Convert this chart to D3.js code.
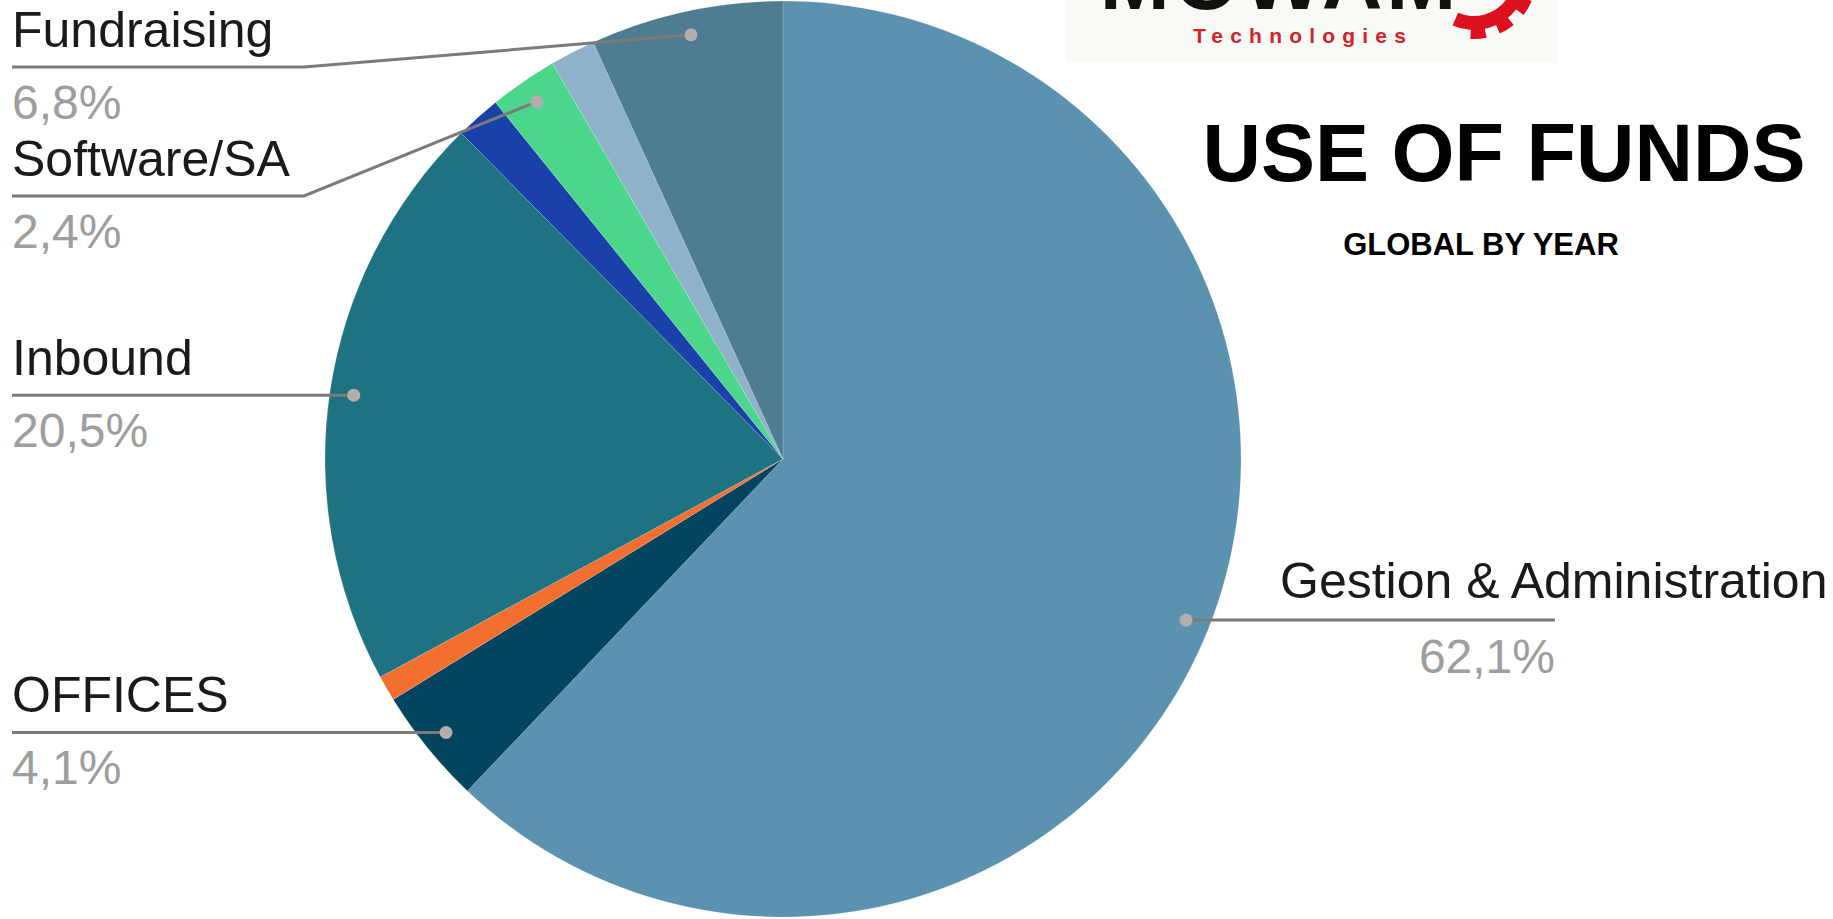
<!DOCTYPE html>
<html>
<head>
<meta charset="utf-8">
<script src="https://cdn.jsdelivr.net/npm/d3@7/dist/d3.min.js"></script>
<style>
  html, body { margin: 0; padding: 0; background: #ffffff; overflow: hidden; }
  svg { display: block; }
</style>
</head>
<body>
<script>
// ---- data ----
const categories = ["Gestion & Administration", "OFFICES", "Travel", "Inbound", "Hardware", "Software/SA", "Legal", "Fundraising"];
const values = [62.1, 4.1, 0.9, 20.5, 1.6, 2.4, 1.6, 6.8];
const showLabel = [true, true, false, true, false, true, false, true];
const colors = ["#5b92b0", "#03445f", "#f36f2f", "#1f7282", "#1a40aa", "#4bd68b", "#8db2c9", "#4e7c93"];
const title = "USE OF FUNDS";
const subtitle = "GLOBAL BY YEAR";
const logoName = "MOWAM";
const logoSub = "Technologies";

// ---- layout ----
const W = 1833, H = 919;
const cx = 783, cy = 459, R = 458, dotR = 434;
const font = "'Liberation Sans', Arial, sans-serif";
const fmt = v => d3.format(".1f")(v).replace(".", ",") + "%";

const svg = d3.select("body").append("svg").attr("width", W).attr("height", H);

// logo block
const logo = svg.append("g");
logo.append("rect").attr("x", 1065).attr("y", -10).attr("width", 493).attr("height", 73).attr("fill", "#f8faf5");
logo.append("text").attr("x", 1280).attr("y", 9).attr("text-anchor", "middle")
  .attr("font-family", font).attr("font-weight", "bold").attr("font-size", 84)
  .attr("letter-spacing", 4).attr("fill", "#111").text(logoName);
logo.append("text").attr("x", 1303).attr("y", 43).attr("text-anchor", "middle")
  .attr("font-family", font).attr("font-weight", "bold").attr("font-size", 21)
  .attr("letter-spacing", 7.2).attr("fill", "#d3222b").text(logoSub);
// partial gear
const gear = logo.append("g").attr("transform", "translate(1474,-24)");
gear.append("path").attr("fill", "#dd1020")
  .attr("d", d3.arc().innerRadius(40).outerRadius(54).startAngle(0.9).endAngle(3.55)());
d3.range(1.15, 3.5, 0.48).forEach(a => {
  gear.append("path").attr("fill", "#dd1020")
    .attr("d", d3.arc().innerRadius(50).outerRadius(63).startAngle(a - 0.13).endAngle(a + 0.13)());
});

// pie
const pie = d3.pie().sort(null).value(d => d)(values);
const arc = d3.arc().innerRadius(0).outerRadius(R);
const dotArc = d3.arc().innerRadius(dotR).outerRadius(dotR);
const g = svg.append("g").attr("transform", `translate(${cx},${cy})`);
g.selectAll("path.slice").data(pie).enter().append("path")
  .attr("class", "slice")
  .attr("d", arc)
  .attr("fill", (d, i) => colors[i])
  .attr("stroke", "rgba(255,255,255,0.25)")
  .attr("stroke-width", 0.6);

// labels
const labels = pie.map((d, i) => {
  const c = dotArc.centroid(d);
  return { i, x: cx + c[0], y: cy + c[1], side: c[0] < 0 ? "left" : "right" };
}).filter(d => showLabel[d.i]);

const left = labels.filter(d => d.side === "left").sort((a, b) => a.y - b.y);
const right = labels.filter(d => d.side === "right").sort((a, b) => a.y - b.y);
const gap = 129, minTop = 67;
let prev = minTop - gap;
left.forEach(d => { d.ly = Math.max(d.y, prev + gap); prev = d.ly; });
prev = minTop - gap;
right.forEach(d => { d.ly = Math.max(d.y, prev + gap); prev = d.ly; });

const lx0 = 12, elbowX = 304, rightEnd = 1555, rightNameX = 1280;
const nameSize = 50, pctSize = 48;
const lineG = svg.append("g");
const line = d3.line();

left.forEach(d => {
  const pts = Math.abs(d.ly - d.y) < 1
    ? [[lx0, d.ly], [d.x, d.y]]
    : [[lx0, d.ly], [elbowX, d.ly], [d.x, d.y]];
  lineG.append("path").attr("d", line(pts)).attr("fill", "none")
    .attr("stroke", "#7d7a7a").attr("stroke-width", 3);
  lineG.append("circle").attr("cx", d.x).attr("cy", d.y).attr("r", 6.5).attr("fill", "#b3adad");
  lineG.append("text").attr("x", lx0).attr("y", d.ly - 20)
    .attr("font-family", font).attr("font-size", nameSize).attr("fill", "#1a1a1a")
    .text(categories[d.i]);
  lineG.append("text").attr("x", lx0).attr("y", d.ly + 52)
    .attr("font-family", font).attr("font-size", pctSize).attr("fill", "#9e9e9e")
    .text(fmt(values[d.i]));
});

right.forEach(d => {
  lineG.append("path").attr("d", line([[d.x, d.y], [rightEnd, d.ly]])).attr("fill", "none")
    .attr("stroke", "#7d7a7a").attr("stroke-width", 3);
  lineG.append("circle").attr("cx", d.x).attr("cy", d.y).attr("r", 6.5).attr("fill", "#b3adad");
  lineG.append("text").attr("x", rightNameX).attr("y", d.ly - 22)
    .attr("font-family", font).attr("font-size", nameSize).attr("fill", "#1a1a1a")
    .text(categories[d.i]);
  lineG.append("text").attr("x", rightEnd).attr("y", d.ly + 53).attr("text-anchor", "end")
    .attr("font-family", font).attr("font-size", pctSize).attr("fill", "#9e9e9e")
    .text(fmt(values[d.i]));
});

// titles
svg.append("text").attr("x", 1504).attr("y", 181).attr("text-anchor", "middle")
  .attr("font-family", font).attr("font-weight", "bold").attr("font-size", 81)
  .attr("fill", "#000").text(title);
svg.append("text").attr("x", 1481).attr("y", 255).attr("text-anchor", "middle")
  .attr("font-family", font).attr("font-weight", "bold").attr("font-size", 31)
  .attr("fill", "#000").text(subtitle);
</script>
</body>
</html>
